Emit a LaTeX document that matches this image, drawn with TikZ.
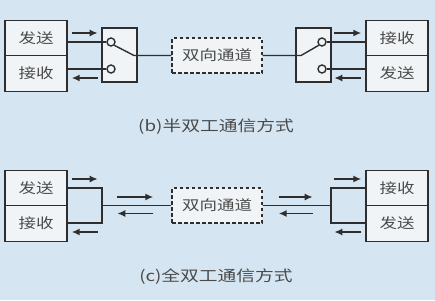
\documentclass[tikz,border=0pt]{standalone}
\usepackage{fontspec}
\newfontfamily\cjk[FakeStretch=1.25]{Noto Sans CJK SC}
\usetikzlibrary{arrows.meta,calc,positioning}
\definecolor{bgblue}{HTML}{D5E5F1}
\definecolor{boxfill}{HTML}{F1F4F6}
\definecolor{inkline}{HTML}{2E2E2E}
\definecolor{inktext}{HTML}{4A4A4A}

\begin{document}
\begin{tikzpicture}[x=1pt,y=-1pt,
  unitbox/.style={draw=inkline, line width=1.4pt, fill=boxfill, minimum width=62pt, minimum height=35.5pt, inner sep=0pt, text=inktext, font=\cjk\fontsize{14}{16}\selectfont},
  switchbox/.style={draw=inkline, line width=1.4pt, fill=boxfill, minimum width=35pt, minimum height=54pt, inner sep=0pt},
  chanbox/.style={draw=inkline, line width=1.4pt, dashed, dash pattern=on 3.5pt off 2.5pt, fill=boxfill, minimum width=90pt, minimum height=35pt, inner sep=0pt, text=inktext, font=\cjk\fontsize{14}{16}\selectfont},
  contact/.style={circle, draw=inkline, line width=1.4pt, fill=boxfill, minimum size=8pt, inner sep=0pt},
  wire/.style={draw=inkline, line width=1.4pt},
  sig/.style={draw=inkline, line width=1.7pt, -{Latex[length=8pt,width=7pt]}},
  caption/.style={text=inktext, font=\cjk\fontsize{15}{17}\selectfont}]
  \fill[bgblue] (0,0) rectangle (435,300);
  \useasboundingbox (0,0) rectangle (435,300);

  % (b) half duplex
  \node[unitbox] (sendL) at (36,38) {发送};
  \node[unitbox] (recvL) at (36,73.5) {接收};
  \node[switchbox] (swL) at (119.5,55) {};
  \node[contact] (cLa) at (111,42) {};
  \node[contact] (cLb) at (111,69) {};
  \node[chanbox] (chan) at (217,55.5) {双向通道};
  \node[switchbox] (swR) at (313.5,55) {};
  \node[contact] (cRa) at (322,42) {};
  \node[contact] (cRb) at (322,69) {};
  \node[unitbox] (recvR) at (397,38) {接收};
  \node[unitbox] (sendR) at (397,73.5) {发送};
  \coordinate (pivL) at (134,55.5);
  \coordinate (pivR) at (301,55.5);

  \draw[wire] (sendL.east |- cLa) -- (cLa.west);
  \draw[wire] (recvL.east |- cLb) -- (cLb.west);
  \draw[wire] (cLa.south east) -- (pivL) -- (chan.west);
  \draw[wire] (chan.east) -- (pivR) -- (cRa.south west);
  \draw[wire] (cRa.east) -- (recvR.west |- cRa);
  \draw[wire] (cRb.east) -- (sendR.west |- cRb);
  \draw[sig] ($(sendL.east |- cLa)+(4,-9)$) -- ++(26,0);
  \draw[sig] ($(recvL.east |- cLb)+(30,9)$) -- ++(-26,0);
  \draw[sig] ($(recvR.west |- cRa)+(-31,-9)$) -- ++(27,0);
  \draw[sig] ($(sendR.west |- cRb)+(-4,9)$) -- ++(-27,0);
  \node[caption] (capb) at (216,127) {(b)半双工通信方式};

  % (c) full duplex
  \node[unitbox] (sendL2) at (36,188) {发送};
  \node[unitbox] (recvL2) at (36,223.5) {接收};
  \node[chanbox] (chan2) at (217,205.5) {双向通道};
  \node[unitbox] (recvR2) at (397,188) {接收};
  \node[unitbox] (sendR2) at (397,223.5) {发送};
  \coordinate (jL) at (102,205.5);
  \coordinate (jR) at (331,205.5);

  \draw[wire] (sendL2.east |- 0,188) -| (jL) |- (recvL2.east |- 0,223);
  \draw[wire] (jL) -- (chan2.west);
  \draw[wire] (recvR2.west |- 0,188) -| (jR) |- (sendR2.west |- 0,223);
  \draw[wire] (chan2.east) -- (jR);
  \draw[sig] ($(sendL2.east |- 0,179)+(4,0)$) -- ++(26,0);
  \draw[sig] ($(recvL2.east |- 0,232)+(30,0)$) -- ++(-26,0);
  \draw[sig] ($(chan2.west)+(-54,-8.5)$) -- ++(36,0);
  \draw[sig] ($(chan2.west)+(-18,8)$) -- ++(-36,0);
  \draw[sig] ($(chan2.east)+(16,-8.5)$) -- ++(34,0);
  \draw[sig] ($(chan2.east)+(50,8)$) -- ++(-34,0);
  \draw[sig] ($(recvR2.west |- 0,179)+(-31,0)$) -- ++(27,0);
  \draw[sig] ($(sendR2.west |- 0,232)+(-4,0)$) -- ++(-27,0);
  \node[caption] (capc) at (216,277) {(c)全双工通信方式};
\end{tikzpicture}
\end{document}
